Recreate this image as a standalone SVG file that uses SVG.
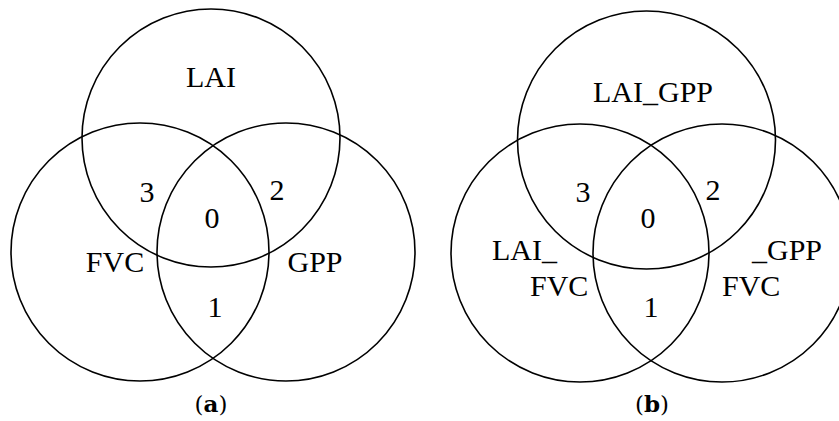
<svg xmlns="http://www.w3.org/2000/svg" width="839" height="421" viewBox="0 0 839 421">
<style>
.c{fill:none;stroke:#000;stroke-width:1.6}
.t{font-family:"Liberation Serif","Times New Roman",serif;font-size:30px;fill:#000}
.m{text-anchor:middle}
.cap{font-family:"DejaVu Serif","Liberation Serif",serif;font-size:23px;fill:#000;text-anchor:middle}
</style>
<rect width="839" height="421" fill="#fff"/>
<g id="panel-a">
  <g id="a-LAI"><circle class="c" cx="211" cy="138" r="129"/><text class="t m" x="211" y="87">LAI</text></g>
  <g id="a-FVC"><circle class="c" cx="140" cy="252" r="129"/><text class="t m" x="115" y="272">FVC</text></g>
  <g id="a-GPP"><circle class="c" cx="286" cy="252" r="129"/><text class="t m" x="315" y="272">GPP</text></g>
  <g id="a-nums">
    <text class="t m" x="147" y="202">3</text>
    <text class="t m" x="277" y="200">2</text>
    <text class="t m" x="212" y="228">0</text>
    <text class="t m" x="215" y="317">1</text>
  </g>
  <text class="cap" x="211" y="412">(<tspan font-weight="bold">a</tspan>)</text>
</g>
<g id="panel-b">
  <g id="b-LAI_GPP"><circle class="c" cx="646.5" cy="140" r="129"/><text class="t m" x="653" y="102">LAI_GPP</text></g>
  <g id="b-LAI_FVC"><circle class="c" cx="580" cy="253" r="129"/><text class="t" x="492" y="260">LAI_</text><text class="t" x="530" y="296">FVC</text></g>
  <g id="b-FVC_GPP"><circle class="c" cx="722" cy="253" r="129"/><text class="t" x="752" y="260">_GPP</text><text class="t" x="722" y="296">FVC</text></g>
  <g id="b-nums">
    <text class="t m" x="583" y="202">3</text>
    <text class="t m" x="713" y="200">2</text>
    <text class="t m" x="648" y="228">0</text>
    <text class="t m" x="651" y="317">1</text>
  </g>
  <text class="cap" x="652" y="412">(<tspan font-weight="bold">b</tspan>)</text>
</g>
</svg>
